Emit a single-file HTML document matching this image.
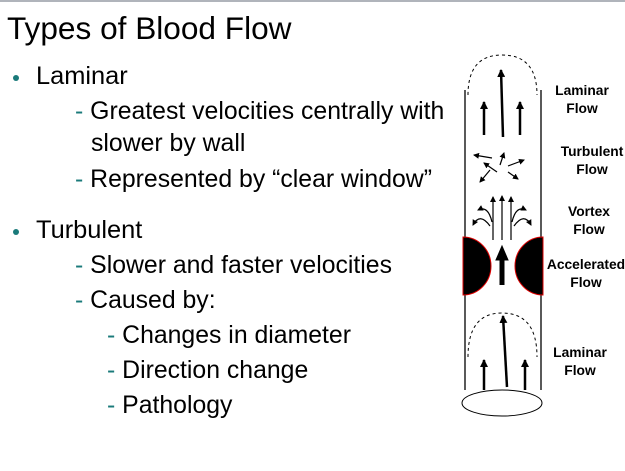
<!DOCTYPE html>
<html><head><style>
body{margin:0;width:625px;height:471px;background:#fff;overflow:hidden;position:relative;font-family:"Liberation Sans",Arial,sans-serif}
.t{position:absolute;white-space:nowrap;color:#000;line-height:1}
.d{color:#1a7a7a}
.s{font-size:24.8px}
.b{position:absolute;width:6px;height:6px;border-radius:50%;background:#1a7a7a}
.l{position:absolute;font-weight:bold;font-size:13.8px;text-align:center;line-height:18px;width:90px}
</style></head><body>
<div style="position:absolute;left:0;top:0;width:625px;height:2px;background:#b0b4bb"></div>
<div class="t" style="left:7px;top:13px;font-size:31.6px">Types of Blood Flow</div>
<div class="b" style="left:13px;top:75px"></div>
<div class="t" style="left:36px;top:64px;font-size:25.4px">Laminar</div>
<div class="t s" style="left:75px;top:100px"><span class="d">-</span> Greatest velocities centrally with</div>
<div class="t s" style="left:91px;top:132px">slower by wall</div>
<div class="t s" style="left:75px;top:168px"><span class="d">-</span> Represented by “clear window”</div>
<div class="b" style="left:13px;top:229px"></div>
<div class="t" style="left:36px;top:218px;font-size:25.4px">Turbulent</div>
<div class="t s" style="left:75px;top:254px"><span class="d">-</span> Slower and faster velocities</div>
<div class="t s" style="left:75px;top:289px"><span class="d">-</span> Caused by:</div>
<div class="t s" style="left:107px;top:324px"><span class="d">-</span> Changes in diameter</div>
<div class="t s" style="left:107px;top:359px"><span class="d">-</span> Direction change</div>
<div class="t s" style="left:107px;top:394px"><span class="d">-</span> Pathology</div>

<svg width="625" height="471" style="position:absolute;left:0;top:0">
<defs><marker id="a" markerWidth="6" markerHeight="6" refX="5" refY="3" orient="auto" markerUnits="userSpaceOnUse"><path d="M0,0L6,3L0,6z"/></marker>
<marker id="b" markerWidth="8" markerHeight="8" refX="7" refY="4" orient="auto" markerUnits="userSpaceOnUse"><path d="M0,0L8,4L0,8z"/></marker></defs>
<g stroke="#000" fill="none">
<line x1="465" y1="90" x2="465" y2="390" stroke-width="1.3"/>
<line x1="541" y1="90" x2="541" y2="390" stroke-width="1.3"/>
<path d="M468,95 Q468,55 502,55 Q537,55 537,95" stroke-dasharray="3,3"/>
<path d="M468,357 Q468,313 502,313 Q537,313 537,357" stroke-dasharray="3,3"/>
<g stroke-width="2.5" marker-end="url(#b)">
<line x1="484" y1="135" x2="484" y2="102"/><line x1="503" y1="137" x2="501" y2="70"/><line x1="520" y1="135" x2="520" y2="102"/>
<line x1="484" y1="390" x2="484" y2="360"/><line x1="507" y1="387" x2="503" y2="316"/><line x1="525" y1="390" x2="525" y2="360"/>
</g>
<g stroke-width="1.2" marker-end="url(#a)">
<line x1="492" y1="158" x2="474" y2="155"/><line x1="500" y1="165" x2="504" y2="153"/><line x1="508" y1="166" x2="524" y2="160"/>
<line x1="497" y1="172" x2="484" y2="163"/><line x1="490" y1="170" x2="480" y2="182"/><line x1="508" y1="172" x2="518" y2="179"/>
<line x1="493" y1="240" x2="493" y2="197"/><line x1="502" y1="240" x2="502" y2="196"/><line x1="511" y1="240" x2="511" y2="197"/>
<path d="M492,222 Q488,205 478,210"/><path d="M490,226 Q480,212 473,225"/>
<path d="M512,222 Q516,205 526,210"/><path d="M514,226 Q524,212 531,225"/>
</g>
<line x1="502" y1="285" x2="502" y2="258" stroke-width="5"/>
<path d="M496,260L502,246L508,260z" fill="#000"/>
<path d="M463,237 A28,29 0 0 1 463,295 Z" fill="#000" stroke="#d00"/>
<path d="M543,237 A28,29 0 0 0 543,295 Z" fill="#000" stroke="#d00"/>
<ellipse cx="502" cy="403" rx="40" ry="13" stroke-width="1"/>
</g></svg>
<div class="l" style="left:537px;top:82px">Laminar<br>Flow</div>
<div class="l" style="left:547px;top:143px">Turbulent<br>Flow</div>
<div class="l" style="left:544px;top:203px">Vortex<br>Flow</div>
<div class="l" style="left:541px;top:256px">Accelerated<br>Flow</div>
<div class="l" style="left:535px;top:344px">Laminar<br>Flow</div>
</body></html>
